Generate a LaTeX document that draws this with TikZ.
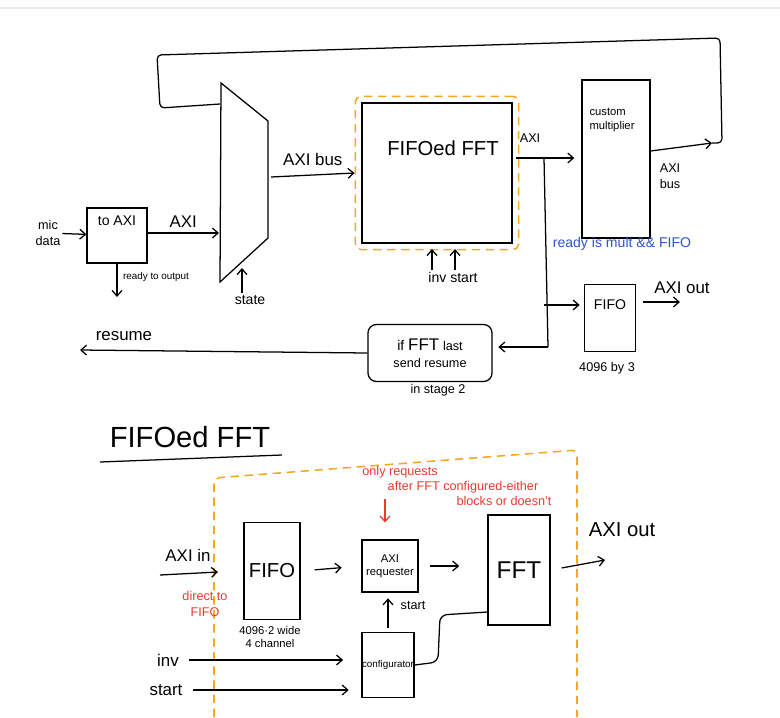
\documentclass[tikz,border=0pt]{standalone}
\usepackage{fontspec}
\setmainfont{Liberation Sans}
\usetikzlibrary{positioning,fit,arrows.meta}
\definecolor{hlorange}{RGB}{245,166,35}
\definecolor{notered}{RGB}{232,58,48}
\definecolor{noteblue}{RGB}{45,85,200}
\begin{document}
\begin{tikzpicture}[
  x=0.025cm, y=-0.025cm,
  line width=0.9pt,
  >={Straight Barb[length=4pt,width=7pt]},
  blk/.style={draw, inner sep=0pt},
  txt/.style={inner sep=1pt},
  hlbox/.style={draw=hlorange, dash pattern=on 6pt off 4pt, line width=1.1pt, rounded corners=4pt},
  rednote/.style={text=notered, font=\small, inner sep=1pt}
]
\useasboundingbox (0,0) rectangle (780,717);
\draw[black!8] (0,8) -- (780,8);

% input side
\node[txt, align=center, font=\small] (mic) at (48,233) {mic\\data};
\node[blk, minimum width=1.5cm, minimum height=1.375cm, label={[below=2pt]north:to AXI}] (toaxi) at (117,235.5) {};
\draw[->] (mic) -- (toaxi);
\coordinate (rdyend) at (117,297);
\draw[->] (toaxi.south) -- (rdyend);
\node[txt, font=\scriptsize] (rdy) at (156,277) {ready to output};

% mux
\coordinate (muxtl) at (221,83);
\coordinate (muxtr) at (268,121);
\coordinate (muxbr) at (268,238);
\coordinate (muxbl) at (220,282);
\draw (muxtl) -- (muxtr) -- (muxbr) -- (muxbl) -- cycle;
\coordinate (muxin) at (219,233);
\coordinate (muxloop) at (220,104);
\coordinate (muxout) at (271,177);
\coordinate (muxsel) at (242,268);
\draw[->] (toaxi.east |- muxin) -- (muxin) node[midway, above, font=\large] (axia) {AXI};
\node[txt] (state) at (250,300) {state};
\draw[->] (state.north -| muxsel) -- (muxsel);

% fifoed fft block
\node[blk, minimum width=3.75cm, minimum height=3.5cm] (fft) at (437,173) {};
\node[txt, font=\Large] (fftname) at (443,148) {FIFOed FFT};
\node[hlbox, fit=(fft), inner sep=0.15cm] (fftwrap) {};
\draw[->] (muxout) -- (fftwrap.west) node[midway, above=3pt, font=\large] (axibus) {AXI bus};
\node[txt] (invst) at (453,277) {inv start};
\coordinate (invtip) at (432,249);
\coordinate (sttip) at (455,249);
\draw[->] (invtip |- invst.north) -- (invtip);
\draw[->] (sttip |- invst.north) -- (sttip);

% multiplier and loop back
\node[blk, minimum width=1.7cm, minimum height=3.95cm,
  label={[anchor=north west, align=left, font=\footnotesize, yshift=-0.6cm, xshift=2pt]north west:{custom\\multiplier}}] (cust) at (616,159) {};
\coordinate (fftout) at (516,158);
\node[txt, font=\small] (axib) at (530,138) {AXI};
\draw[->, shorten >=5pt] (fftout) -- (cust.west |- fftout);
\coordinate (busout) at (712,143);
\draw[->] ([yshift=0.2cm]cust.east) -- (busout);
\node[txt, font=\small, align=center] (busl) at (670,176) {AXI\\bus};
\draw[rounded corners=3pt] (busout) -- (722,143) -- (720,38) -- (157,55) -- (160,108) -- (muxloop);
\node[txt, text=noteblue] (readynote) at (622,244) {ready is mult \&\& FIFO};

% output fifo and resume
\coordinate (tap) at (544,158);
\coordinate (tapend) at (548,347);
\draw (tap) -- (tapend);
\node[blk, minimum width=1.275cm, minimum height=1.675cm] (fifoa) at (610,318) {};
\node[txt] (fifoalbl) at (610,305) {FIFO};
\draw[->, shorten >=3pt] (tap |- fifoalbl) -- (fifoa.west |- fifoalbl);
\node[txt, font=\small] (fifoasize) at (607,368) {4096 by 3};
\coordinate (axiout) at (680,302);
\draw[->, shorten <=5pt] (fifoa.east |- axiout) -- (axiout);
\node[txt, font=\large] (axioutlbl) at (682,288) {AXI out};
\node[blk, rounded corners=6pt, minimum width=3.1cm, minimum height=1.425cm, align=center] (resbox) at (430,353)
  {if {\large FFT} {\small last}\\{\small send resume}};
\node[txt, font=\small] (stage) at (438,390) {in stage 2};
\draw[->, shorten >=4pt] (tapend) -- (resbox.east |- tapend);
\coordinate (resout) at (80,350);
\draw[->] (resbox.west) -- (resout);
\node[txt, font=\large] (reslbl) at (124,336) {resume};

% detail of the fifoed fft
\node[txt, font=\huge] (title) at (190,437) {FIFOed FFT};
\coordinate (ulA) at (100,462);
\coordinate (ulB) at (282,455);
\draw (ulA) -- (ulB);
\draw[hlbox] (214,717) -- (214,478) -- (577,450) -- (577,717);

\node[rednote] (req1) at (400,472) {only requests};
\node[rednote] (req2) at (463,487) {after FFT configured-either};
\node[rednote] (req3) at (504,501) {blocks or doesn't};
\coordinate (reqnote) at (385,499);

\node[txt, font=\large] (axiinlbl) at (188,555) {AXI in};
\coordinate (axiinA) at (160,575);
\coordinate (axiinB) at (218,572);
\draw[->] (axiinA) -- (axiinB);
\node[rednote, align=center] (direct) at (205,604) {direct to\\FIFO};

\node[blk, minimum width=1.4cm, minimum height=2.425cm, font=\Large] (fifob) at (272,571) {FIFO};
\node[txt, font=\footnotesize, align=center] (fifobsize) at (270,637) {4096·2 wide\\4 channel};
\node[blk, minimum width=1.4cm, minimum height=1.3cm, align=center, font=\footnotesize] (req) at (390,566) {AXI\\requester};
\node[blk, minimum width=1.55cm, minimum height=2.75cm, font=\LARGE] (fftb) at (519,570) {FFT};
\node[blk, minimum width=1.25cm, minimum height=1.625cm, font=\scriptsize] (conf) at (388,665) {configurator};
\draw[->, notered, shorten >=12pt] (reqnote) -- (req.north -| reqnote);

\draw[->, shorten <=10pt, shorten >=14pt] (fifob.east) -- (req.west);
\draw[->, shorten <=8pt, shorten >=20pt] (req.east) -- (fftb.west |- req.east);
\coordinate (fftbout) at (605,560);
\draw[->, shorten <=8pt] (fftb.east) -- (fftbout);
\node[txt, font=\Large] (fftboutlbl) at (622,530) {AXI out};

\draw[->, shorten <=3pt, shorten >=4pt] (conf.north) -- (conf.north |- req.south);
\node[txt, font=\small] (startb) at (413,605) {start};
\coordinate (cfgjoint) at (440,612);
\draw[rounded corners=5pt] (conf.east) -- (438,662) -- (440,615) -- (fftb.west |- cfgjoint);

\node[txt, font=\large] (invlbl) at (168,660) {inv};
\node[txt, font=\large] (startlbl) at (166,690) {start};
\draw[->, shorten <=6pt, shorten >=13pt] (invlbl.east) -- (conf.west |- invlbl.east);
\draw[->, shorten <=6pt, shorten >=9pt] (startlbl.east) -- (conf.west |- startlbl.east);
\end{tikzpicture}
\end{document}
